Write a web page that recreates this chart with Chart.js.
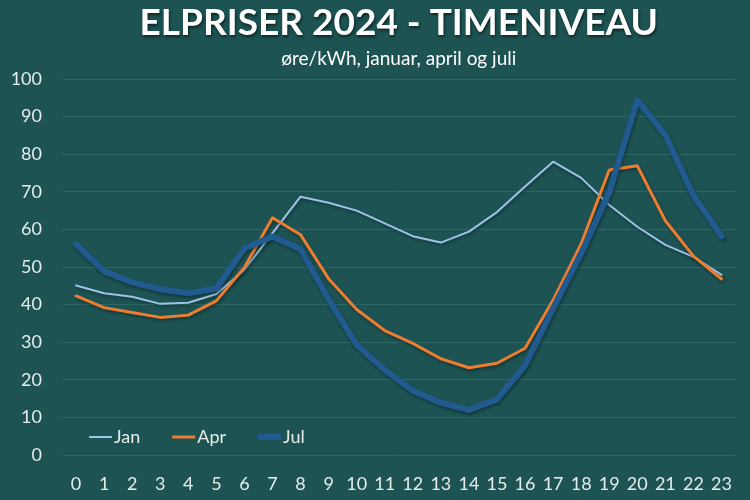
<!DOCTYPE html>
<html>
<head>
<meta charset="utf-8">
<script src="https://cdn.jsdelivr.net/npm/chart.js@4"></script>
<style>
    html, body { margin: 0; padding: 0; background: #1d5353; }
    #wrap { width: 750px; height: 500px; }
</style>
</head>
<body>
<div id="wrap"><canvas id="elChart"></canvas></div>
<script>
// Timer på døgnet
const hours = ['0','1','2','3','4','5','6','7','8','9','10','11','12','13','14','15','16','17','18','19','20','21','22','23'];

// Priser i øre/kWh
const janPrices = [45.1, 43.0, 42.1, 40.2, 40.5, 42.8, 49.3, 59.0, 68.7, 67.1, 65.0, 61.6, 58.2, 56.5, 59.4, 64.6, 71.4, 78.0, 73.7, 66.5, 60.7, 55.9, 52.7, 47.9];
const aprPrices = [42.3, 39.2, 37.9, 36.6, 37.2, 41.0, 49.9, 63.1, 58.6, 46.9, 38.7, 33.1, 29.7, 25.6, 23.2, 24.4, 28.4, 41.2, 56.2, 75.8, 76.9, 62.3, 52.9, 46.8];
const julPrices = [56.1, 48.9, 45.9, 44.1, 43.0, 44.3, 55.0, 58.1, 54.7, 41.5, 29.3, 22.6, 17.1, 13.9, 12.0, 14.8, 23.8, 39.0, 53.6, 69.8, 94.4, 85.1, 69.1, 58.2];

const seriesLabels = ['Jan', 'Apr', 'Jul'];
const yTicks = [0, 10, 20, 30, 40, 50, 60, 70, 80, 90, 100];

const titleText = 'ELPRISER 2024 - TIMENIVEAU';
const subtitleText = 'øre/kWh, januar, april og juli';

const BG = '#1d5353';
const GRID = '#2d6765';
const TEXT = '#e6ecec';
const FONT = 'Lato, "Open Sans", sans-serif';

// Baggrund, titel og forklaring tegnes selv
const decorPlugin = {
    id: 'decor',
    beforeDraw(chart) {
        const ctx = chart.ctx;
        ctx.save();
        ctx.fillStyle = BG;
        ctx.fillRect(0, 0, chart.width, chart.height);
        ctx.restore();
    },
    afterDraw(chart) {
        const ctx = chart.ctx;
        const area = chart.chartArea;
        const cx = (area.left + area.right) / 2;

        ctx.save();
        ctx.textAlign = 'center';
        ctx.textBaseline = 'middle';
        ctx.shadowColor = 'rgba(0,0,0,0.55)';
        ctx.shadowBlur = 3;
        ctx.shadowOffsetX = 1;
        ctx.shadowOffsetY = 2;
        ctx.fillStyle = '#ffffff';
        ctx.font = 'bold 37px ' + FONT;
        ctx.fillText(titleText, cx, 23);
        ctx.shadowColor = 'transparent';
        ctx.font = '19px ' + FONT;
        ctx.fillStyle = '#ffffff';
        ctx.fillText(subtitleText, cx, 59);
        ctx.restore();

        // Forklaring inde i plotområdet
        ctx.save();
        ctx.font = '18px ' + FONT;
        ctx.textBaseline = 'middle';
        ctx.textAlign = 'left';
        let x = area.left + 27;
        const y = 437;
        chart.data.datasets.forEach(ds => {
            ctx.strokeStyle = ds.borderColor;
            ctx.lineWidth = ds.borderWidth;
            ctx.lineCap = 'butt';
            ctx.beginPath();
            ctx.moveTo(x, y);
            ctx.lineTo(x + 23, y);
            ctx.stroke();
            x += 25;
            ctx.fillStyle = TEXT;
            ctx.fillText(ds.label, x, y);
            x += ctx.measureText(ds.label).width + 32;
        });
        ctx.restore();
    },
    beforeDatasetDraw(chart) {
        const ctx = chart.ctx;
        ctx.save();
        ctx.shadowColor = 'rgba(0,0,0,0.35)';
        ctx.shadowBlur = 3;
        ctx.shadowOffsetX = 1;
        ctx.shadowOffsetY = 2;
    },
    afterDatasetDraw(chart) {
        chart.ctx.restore();
    }
};

function makeSeries(label, data, color, width, order) {
    return {
        label: label,
        data: data,
        borderColor: color,
        backgroundColor: color,
        borderWidth: width,
        pointRadius: 0,
        pointHoverRadius: 0,
        tension: 0,
        borderJoinStyle: 'round',
        borderCapStyle: 'round',
        fill: false,
        order: order
    };
}

document.addEventListener('DOMContentLoaded', () => {
    const ctx = document.getElementById('elChart').getContext('2d');
    new Chart(ctx, {
        type: 'line',
        data: {
            labels: hours,
            datasets: [
                makeSeries(seriesLabels[0], janPrices, '#9dc3e6', 2, 3),
                makeSeries(seriesLabels[1], aprPrices, '#ed7d31', 3, 2),
                makeSeries(seriesLabels[2], julPrices, '#215a8e', 6, 1)
            ]
        },
        options: {
            responsive: true,
            maintainAspectRatio: false,
            animation: false,
            devicePixelRatio: 1,
            layout: {
                padding: { top: 79, right: 3, bottom: 0, left: 0 }
            },
            plugins: {
                legend: { display: false },
                title: { display: false },
                tooltip: { enabled: false }
            },
            scales: {
                x: {
                    offset: true,
                    grid: { display: false, drawTicks: false },
                    border: { display: false },
                    ticks: {
                        color: TEXT,
                        font: { family: FONT, size: 18 },
                        padding: 18,
                        maxRotation: 0,
                        autoSkip: false
                    },
                    afterFit(scale) { scale.height = 45; }
                },
                y: {
                    min: 0,
                    max: 100,
                    afterBuildTicks(scale) {
                        scale.ticks = yTicks.map(v => ({ value: v }));
                    },
                    grid: { color: GRID, lineWidth: 1, drawTicks: false },
                    border: { display: false },
                    ticks: {
                        color: TEXT,
                        font: { family: FONT, size: 18 },
                        padding: 20
                    },
                    afterFit(scale) { scale.width = 62; }
                }
            }
        },
        plugins: [decorPlugin]
    });
});
</script>
</body>
</html>
